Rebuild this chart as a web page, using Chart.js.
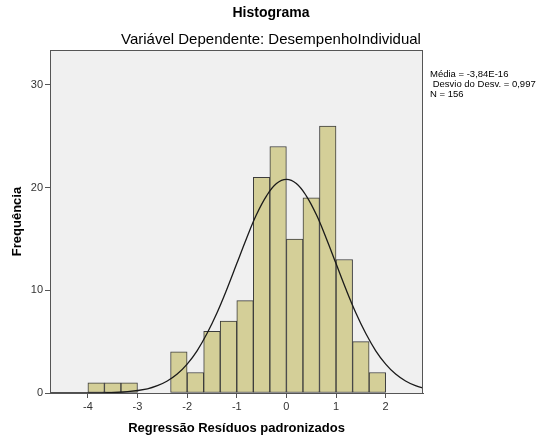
<!DOCTYPE html>
<html>
<head>
<meta charset="utf-8">
<script src="https://cdn.jsdelivr.net/npm/chart.js@4/dist/chart.umd.min.js"></script>
<style>
  body { margin: 0; background: #fff; font-family: "Liberation Sans", Arial, sans-serif; }
  #wrap { position: relative; width: 542px; height: 438px; }
  .t { position: absolute; left: 0; width: 542px; text-align: center; color: #000; white-space: nowrap; }
  #stats { position: absolute; left: 430px; top: 69px; font-size: 9.5px; line-height: 10px; color: #000; white-space: pre; }
</style>
</head>
<body>
<div id="wrap">
  <canvas id="myChart" width="542" height="438"></canvas>
  <div class="t" style="top:4px;font-size:14px;font-weight:bold;">Histograma</div>
  <div class="t" style="top:30px;font-size:15px;">Variável Dependente: DesempenhoIndividual</div>
  <div id="stats">Média = -3,84E-16
 Desvio do Desv. = 0,997
N = 156</div>
</div>
<script>
// centros das classes (largura 1/3) e frequencias
var centros = [-3.833, -3.5, -3.167, -2.167, -1.833, -1.5, -1.167, -0.833, -0.5, -0.167, 0.167, 0.5, 0.833, 1.167, 1.5, 1.833];
var freq = [1, 1, 1, 4, 2, 6, 7, 9, 21, 24, 15, 19, 26, 13, 5, 2];

// curva normal
var curvaX = [-4.8, -4.4, -4.0, -3.6, -3.2, -2.8, -2.6, -2.4, -2.2, -2.0, -1.8, -1.6, -1.4, -1.2, -1.0, -0.8, -0.6, -0.4, -0.2, 0,
              0.2, 0.4, 0.6, 0.8, 1.0, 1.2, 1.4, 1.6, 1.8, 2.0, 2.2, 2.4, 2.6, 2.8];
var curvaY = [0, 0, 0.01, 0.03, 0.13, 0.41, 0.71, 1.17, 1.84, 2.81, 4.11, 5.79, 7.79, 10.1, 12.6, 15.1, 17.4, 19.2, 20.4, 20.8,
              20.4, 19.2, 17.4, 15.1, 12.6, 10.1, 7.79, 5.79, 4.11, 2.81, 1.84, 1.17, 0.71, 0.41];

var xTicks = [-4, -3, -2, -1, 0, 1, 2];
var yTicks = [0, 10, 20, 30];

window.onload = function() {
    creargraf();
}

function creargraf() {
    var barras = [];
    for (var i = 0; i < centros.length; i++) {
        barras.push({x: centros[i], y: freq[i]});
    }
    var curva = [];
    for (var k = 0; k < curvaX.length; k++) {
        curva.push({x: curvaX[k], y: curvaY[k]});
    }

    var fundo = {
        id: 'fundo',
        beforeDraw: function(chart) {
            var a = chart.chartArea, c = chart.ctx;
            c.save();
            c.fillStyle = '#f0f0f0';
            c.fillRect(a.left, a.top, a.right - a.left, a.bottom - a.top);
            c.restore();
        },
        afterDraw: function(chart) {
            var a = chart.chartArea, c = chart.ctx;
            c.save();
            c.strokeStyle = '#555';
            c.lineWidth = 1;
            c.strokeRect(a.left + 0.5, a.top + 0.5, a.right - a.left - 1, a.bottom - a.top);
            c.restore();
        }
    };

    var ctx = document.getElementById('myChart').getContext('2d');
    new Chart(ctx, {
        data: {
            datasets: [{
                type: 'line',
                data: curva,
                borderColor: '#1a1a1a',
                borderWidth: 1.3,
                pointRadius: 0,
                tension: 0.4,
                fill: false
            }, {
                type: 'bar',
                data: barras,
                backgroundColor: '#d4cf98',
                borderColor: '#3c3c3c',
                borderWidth: 1,
                borderSkipped: false,
                barPercentage: 1,
                categoryPercentage: 1
            }]
        },
        options: {
            responsive: false,
            animation: false,
            devicePixelRatio: 1,
            layout: { padding: { top: 50, right: 119, left: 0, bottom: 0 } },
            plugins: { legend: { display: false }, tooltip: { enabled: false } },
            scales: {
                x: {
                    type: 'linear',
                    offset: false,
                    min: -4.763,
                    max: 2.752,
                    afterBuildTicks: function(s) { s.ticks = xTicks.map(function(v) { return {value: v}; }); },
                    afterFit: function(s) { s.height = 45; },
                    grid: { offset: false, drawOnChartArea: false, tickLength: 5, color: '#555' },
                    border: { color: '#555' },
                    ticks: { color: '#333', font: { size: 11, family: 'Liberation Sans' }, padding: 2 },
                    title: { display: true, text: 'Regressão Resíduos padronizados', color: '#000',
                             font: { size: 13, weight: 'bold', family: 'Liberation Sans' }, padding: { top: 0, bottom: 2 } }
                },
                y: {
                    min: 0,
                    max: 33.4,
                    afterBuildTicks: function(s) { s.ticks = yTicks.map(function(v) { return {value: v}; }); },
                    afterFit: function(s) { s.width = 50; },
                    grid: { drawOnChartArea: false, tickLength: 5, color: '#555' },
                    border: { color: '#555' },
                    ticks: { color: '#333', font: { size: 11, family: 'Liberation Sans' }, padding: 2 },
                    title: { display: true, text: 'Frequência', color: '#000',
                             font: { size: 13, weight: 'bold', family: 'Liberation Sans' }, padding: { top: 10, bottom: 0 } }
                }
            }
        },
        plugins: [fundo]
    });
}
</script>
</body>
</html>
